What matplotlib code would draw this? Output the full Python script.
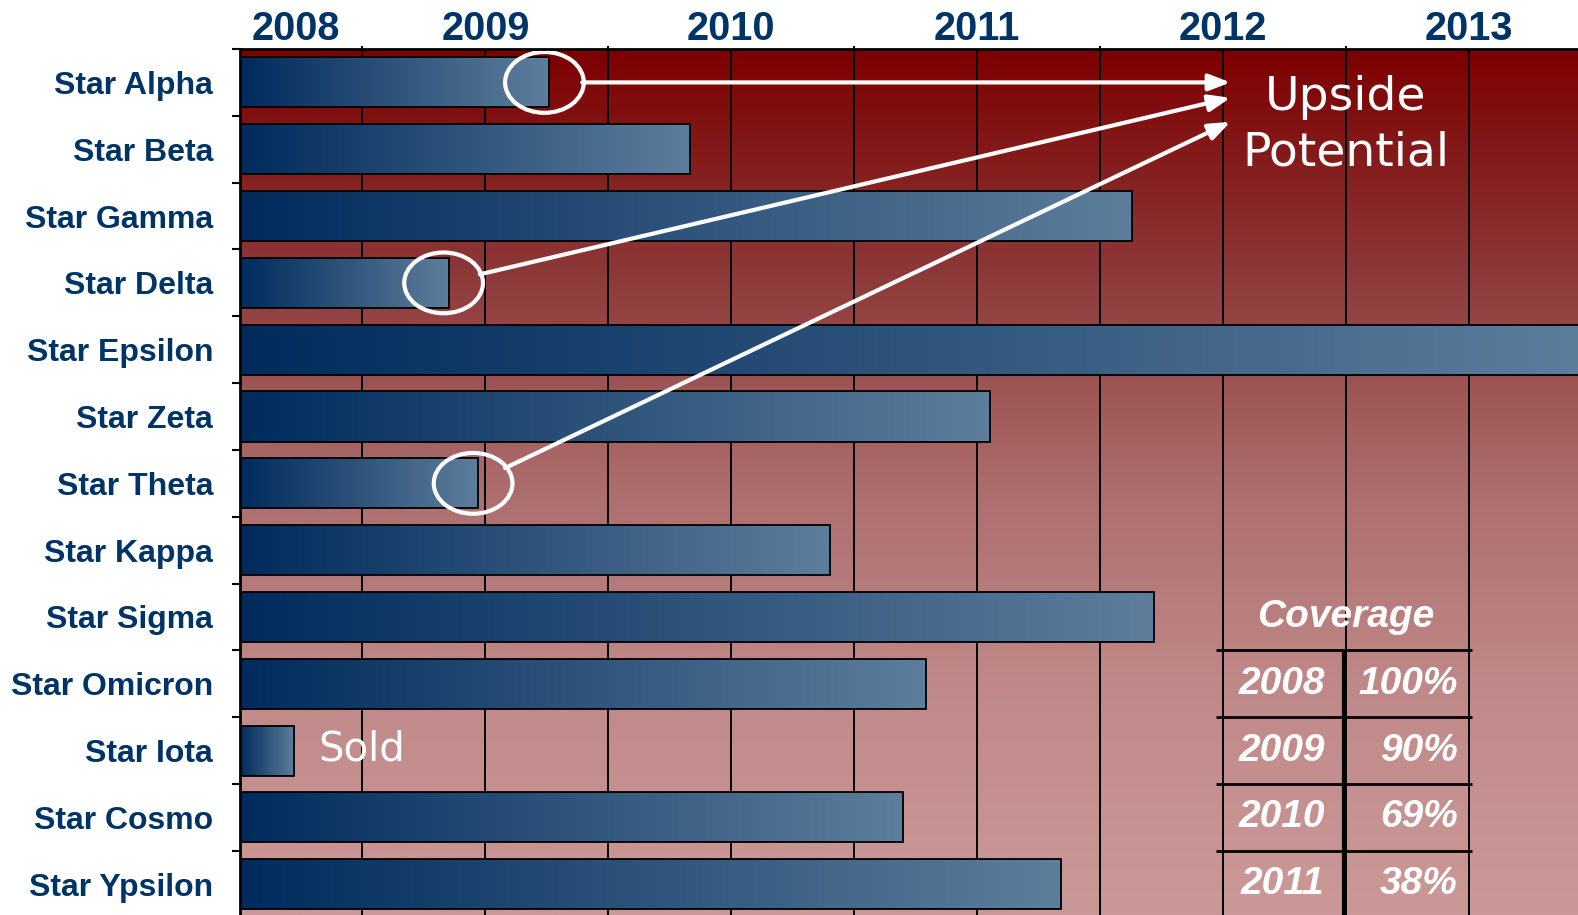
import numpy as np
import matplotlib
matplotlib.use("Agg")
import matplotlib.pyplot as plt
from matplotlib.colors import LinearSegmentedColormap
from matplotlib.patches import Ellipse, Rectangle, FancyArrowPatch

# data
stars = ["Star Alpha", "Star Beta", "Star Gamma", "Star Delta", "Star Epsilon",
         "Star Zeta", "Star Theta", "Star Kappa", "Star Sigma", "Star Omicron",
         "Star Iota", "Star Cosmo", "Star Ypsilon"]
bar_start = 2008.0
bar_end = [2009.26, 2009.83, 2011.63, 2008.85, 2013.50, 2011.05, 2008.97,
           2010.40, 2011.72, 2010.79, 2008.22, 2010.70, 2011.34]
year_labels = ["2008", "2009", "2010", "2011", "2012", "2013"]
year_label_pos = [2008.23, 2009, 2010, 2011, 2012, 2013]

upside_rows = [0, 3, 6]                 # Alpha, Delta, Theta get circled
upside_target_y = [0.0, 0.23, 0.59]     # where the arrows land
sold_row = 10

cov_years = ["2008", "2009", "2010", "2011"]
cov_pct = ["100%", "90%", "69%", "38%"]

plt.rcParams['font.family'] = ['Liberation Sans', 'DejaVu Sans']
navy = '#003366'

fig = plt.figure(figsize=(15.78, 9.15), dpi=100)
ax = fig.add_axes([239.5 / 1578, 0, 1 - 239.5 / 1578, 1 - 49 / 915])

x0, x1 = 2008.0, 2013.443
y_bot, y_top = 12.46, -0.5

# background: dark red on top fading to pink
bg_cmap = LinearSegmentedColormap.from_list("bg", [
    (0.0, (125/255, 0, 0)),
    (0.25, (140/255, 55/255, 55/255)),
    (0.5, (172/255, 108/255, 108/255)),
    (0.75, (193/255, 138/255, 138/255)),
    (1.0, (203/255, 152/255, 152/255))])
grad = np.linspace(0, 1, 400).reshape(-1, 1)
ax.imshow(grad, cmap=bg_cmap, extent=(x0, x1, y_bot, y_top), aspect='auto',
          origin='upper', zorder=0)

# half-year grid
for gx in np.arange(2008.5, 2013.01, 0.5):
    ax.axvline(gx, color='black', lw=1.4, zorder=1)

# bars with their own left-to-right gradient
bar_cmap = LinearSegmentedColormap.from_list("bar", ['#002b5c', '#5e7e9c'])
h = 0.75
hgrad = np.linspace(0, 1, 256).reshape(1, -1)
for i, end in enumerate(bar_end):
    rect = Rectangle((bar_start, i - h / 2), end - bar_start, h,
                     facecolor='none', edgecolor='black', lw=1.3, zorder=3)
    ax.add_patch(rect)
    im = ax.imshow(hgrad, cmap=bar_cmap, extent=(bar_start, end, i + h / 2, i - h / 2),
                   aspect='auto', zorder=2)
    im.set_clip_path(rect)

# circles + arrows to "Upside Potential"
for r, ty in zip(upside_rows, upside_target_y):
    cx = bar_end[r] - 0.02
    ell = Ellipse((cx, r), width=0.32, height=0.91, fill=False,
                  edgecolor='white', lw=3, zorder=5)
    ax.add_patch(ell)
    arr = FancyArrowPatch((cx, r), (2012.03, ty), patchA=ell, shrinkA=0, shrinkB=0,
                          arrowstyle='-|>,head_length=1.3,head_width=0.5',
                          mutation_scale=10, color='white', lw=3, zorder=5)
    ax.add_patch(arr)

ax.text(2012.5, 0.413, "Upside", color='white', fontsize=34, family='DejaVu Sans',
        ha='center', va='baseline', zorder=6)
ax.text(2012.5, 1.25, "Potential", color='white', fontsize=34, family='DejaVu Sans',
        ha='center', va='baseline', zorder=6)
ax.text(2008.32, sold_row + 0.15, "Sold", color='white', fontsize=29,
        family='DejaVu Sans', ha='left', va='baseline', zorder=6)

# coverage table
ax.hlines([8.5, 9.5, 10.5, 11.5], 2011.97, 2013.01, color='black', lw=2, zorder=4)
ax.vlines(2012.492, 8.5, y_bot, color='black', lw=3, zorder=4)
ax.text(2012.5, 8.0, "Coverage", color='white', fontsize=28, fontweight='bold',
        fontstyle='italic', ha='center', va='center', zorder=6)
for k, (yr, pct) in enumerate(zip(cov_years, cov_pct)):
    ax.text(2012.24, 9 + k, yr, color='white', fontsize=28, fontweight='bold',
            fontstyle='italic', ha='center', va='center', zorder=6)
    ax.text(2012.955, 9 + k, pct, color='white', fontsize=28, fontweight='bold',
            fontstyle='italic', ha='right', va='center', zorder=6)

ax.set_xlim(x0, x1)
ax.set_ylim(y_bot, y_top)

# axes decoration
ax.set_yticks(range(len(stars)))
ax.set_yticklabels(stars, fontsize=23, fontweight='bold', color=navy)
ax.set_yticks(np.arange(-0.5, len(stars) - 0.5, 1), minor=True)
ax.tick_params(axis='y', which='major', length=0, pad=19)
ax.tick_params(axis='y', which='minor', length=6, width=1.5, color='black')

ax.set_xticks(year_label_pos)
ax.set_xticklabels(year_labels, fontsize=28.5, fontweight='bold', color=navy)
ax.set_xticks(np.arange(2008.5, 2013.01, 0.5), minor=True)
ax.tick_params(axis='x', which='both', top=True, bottom=False,
               labeltop=True, labelbottom=False)
ax.tick_params(axis='x', which='major', length=0, pad=1)
ax.tick_params(axis='x', which='minor', length=2.5, width=1.4)

for s in ['right', 'bottom']:
    ax.spines[s].set_visible(False)
for s in ['left', 'top']:
    ax.spines[s].set_linewidth(2)
    ax.spines[s].set_zorder(7)

fig.savefig("out.png", dpi=100)
